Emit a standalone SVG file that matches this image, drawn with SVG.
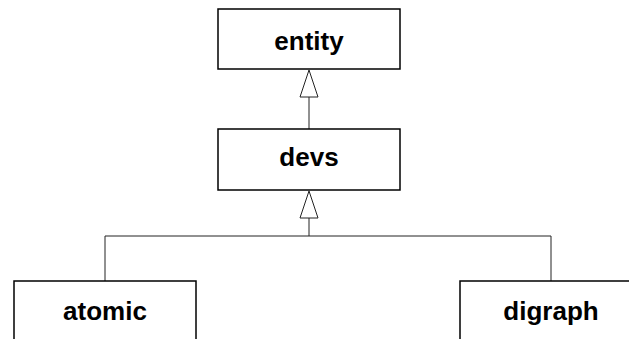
<svg xmlns="http://www.w3.org/2000/svg" width="629" height="339" viewBox="0 0 629 339">
<style>
.box{fill:#fff;stroke:#000;stroke-width:1.5}
.lbl{font-family:"Liberation Sans",Arial,sans-serif;font-weight:bold;font-size:26px;text-anchor:middle;fill:#000}
.ln{fill:none;stroke:#222;stroke-width:1}
.tri{fill:#fff;stroke:#222;stroke-width:1}
</style>
<rect width="629" height="339" fill="#fff"/>
<g id="connectors">
<line class="ln" x1="309" y1="97" x2="309" y2="129"/>
<polygon class="tri" points="309,70 300,97 318,97"/>
<polyline class="ln" points="105,281 105,236 551,236 551,281"/>
<line class="ln" x1="309" y1="218" x2="309" y2="236"/>
<polygon class="tri" points="309,191 300,218 318,218"/>
</g>
<g id="entity">
<rect class="box" x="218" y="9" width="182" height="60"/>
<text class="lbl" x="309" y="50">entity</text>
</g>
<g id="devs">
<rect class="box" x="218" y="129" width="182" height="61"/>
<text class="lbl" x="309" y="166">devs</text>
</g>
<g id="atomic">
<rect class="box" x="14" y="281" width="182" height="70"/>
<text class="lbl" x="105" y="320">atomic</text>
</g>
<g id="digraph">
<rect class="box" x="460" y="281" width="182" height="70"/>
<text class="lbl" x="551" y="320">digraph</text>
</g>
</svg>
